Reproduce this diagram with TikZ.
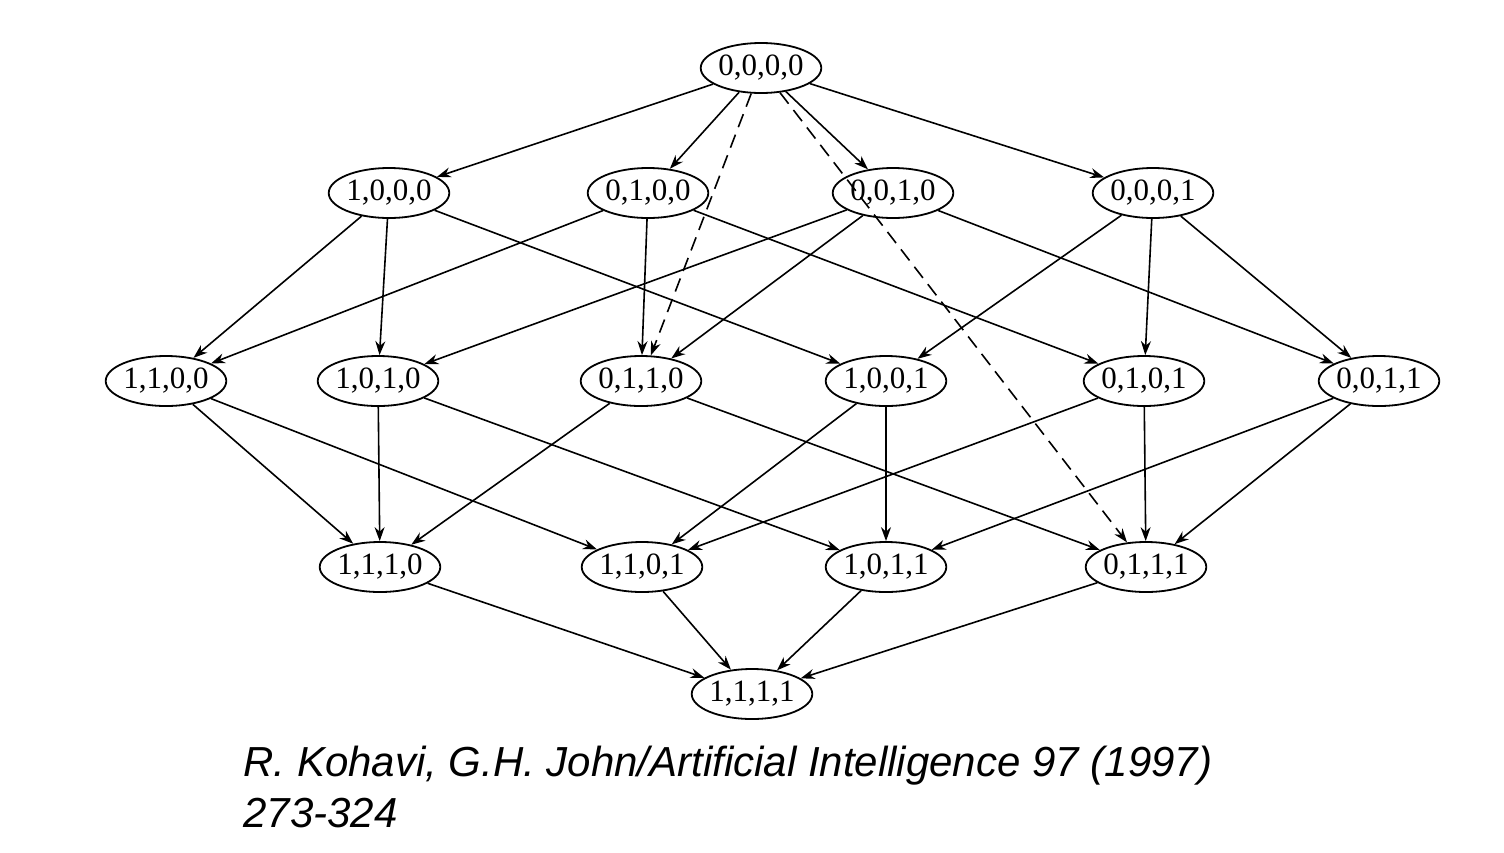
\documentclass[tikz,border=0pt]{standalone}
\usepackage{fontspec}
\setmainfont{Liberation Serif}
\newfontfamily\capfont{Liberation Sans}
\usetikzlibrary{arrows.meta,shapes.geometric}

\tikzset{
  state/.style={draw, ellipse, line width=0.9pt, minimum width=54pt, minimum height=25pt,
    inner sep=0pt, font=\fontsize{15.5}{15.5}\selectfont},
  edge/.style={line width=0.8pt, -{Stealth[length=7pt,width=5pt]}},
  dashedge/.style={edge, dash pattern=on 7pt off 4pt},
  caption/.style={anchor=base west, inner sep=0pt, font=\capfont\itshape\fontsize{21}{21}\selectfont},
}

\begin{document}
\begin{tikzpicture}[x=0.5pt, y=-0.5pt]
\useasboundingbox (0,0) rectangle (1504,852);

% States
\node[state] (n0000) at (761,68) {0,0,0,0};

\node[state] (n1000) at (389,193) {1,0,0,0};
\node[state] (n0100) at (648,193) {0,1,0,0};
\node[state] (n0010) at (893,193) {0,0,1,0};
\node[state] (n0001) at (1153,193) {0,0,0,1};

\node[state] (n1100) at (166,381) {1,1,0,0};
\node[state] (n1010) at (378,381) {1,0,1,0};
\node[state] (n0110) at (641,381) {0,1,1,0};
\node[state] (n1001) at (886,381) {1,0,0,1};
\node[state] (n0101) at (1144,381) {0,1,0,1};
\node[state] (n0011) at (1379,381) {0,0,1,1};

\node[state] (n1110) at (380,567) {1,1,1,0};
\node[state] (n1101) at (642,567) {1,1,0,1};
\node[state] (n1011) at (886,567) {1,0,1,1};
\node[state] (n0111) at (1146,567) {0,1,1,1};

\node[state] (n1111) at (752,694) {1,1,1,1};

% Edges from the top
\draw[edge] (n0000) -- (n1000);
\draw[edge] (n0000) -- (n0100);
\draw[edge] (n0000) -- (n0010);
\draw[edge] (n0000) -- (n0001);
\draw[dashedge] (n0000) -- (n0110);
\draw[dashedge] (n0000) -- (n0111);

% Edges, one feature to two
\draw[edge] (n1000) -- (n1100);
\draw[edge] (n1000) -- (n1010);
\draw[edge] (n1000) -- (n1001);
\draw[edge] (n0100) -- (n1100);
\draw[edge] (n0100) -- (n0110);
\draw[edge] (n0100) -- (n0101);
\draw[edge] (n0010) -- (n1010);
\draw[edge] (n0010) -- (n0110);
\draw[edge] (n0010) -- (n0011);
\draw[edge] (n0001) -- (n1001);
\draw[edge] (n0001) -- (n0101);
\draw[edge] (n0001) -- (n0011);

% Edges, two features to three
\draw[edge] (n1100) -- (n1110);
\draw[edge] (n1100) -- (n1101);
\draw[edge] (n1010) -- (n1110);
\draw[edge] (n1010) -- (n1011);
\draw[edge] (n0110) -- (n1110);
\draw[edge] (n0110) -- (n0111);
\draw[edge] (n1001) -- (n1101);
\draw[edge] (n1001) -- (n1011);
\draw[edge] (n0101) -- (n1101);
\draw[edge] (n0101) -- (n0111);
\draw[edge] (n0011) -- (n1011);
\draw[edge] (n0011) -- (n0111);

% Edges to the bottom
\draw[edge] (n1110) -- (n1111);
\draw[edge] (n1101) -- (n1111);
\draw[edge] (n1011) -- (n1111);
\draw[edge] (n0111) -- (n1111);

% Caption
\node[caption] (cap1) at (243,776) {R. Kohavi, G.H. John/Artificial Intelligence 97 (1997)};
\node[caption] (cap2) at (243,827) {273-324};
\end{tikzpicture}
\end{document}
